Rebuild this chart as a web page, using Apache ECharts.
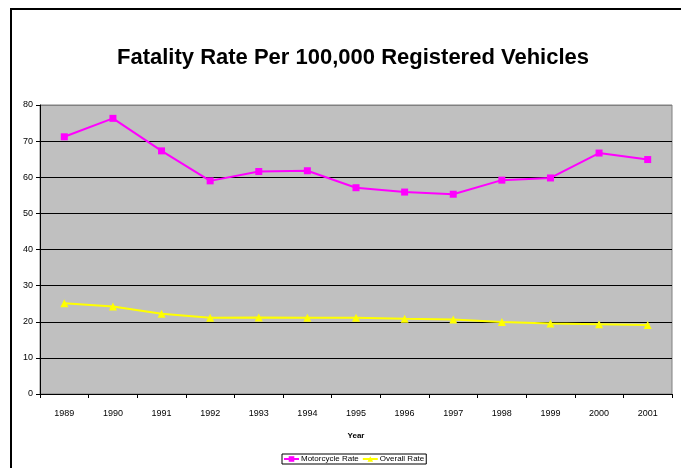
<!DOCTYPE html>
<html>
<head>
<meta charset="utf-8">
<script src="https://cdn.jsdelivr.net/npm/echarts@6/dist/echarts.min.js"></script>
<style>
  html, body { margin: 0; padding: 0; background: #fff; }
  #main { width: 681px; height: 468px; }
</style>
</head>
<body>
<div id="main"></div>
<script>
var years = ['1989', '1990', '1991', '1992', '1993', '1994', '1995', '1996', '1997', '1998', '1999', '2000', '2001'];
var motorcycleRate = [71.2, 76.3, 67.3, 59.0, 61.6, 61.8, 57.1, 55.9, 55.3, 59.2, 59.8, 66.7, 64.9];
var overallRate = [25.1, 24.2, 22.2, 21.1, 21.2, 21.1, 21.1, 20.8, 20.6, 19.9, 19.5, 19.3, 19.1];

var myChart = echarts.init(document.getElementById('main'));

var font = 'Liberation Sans, Arial, sans-serif';

var option = {
    backgroundColor: '#ffffff',
    animation: false,
    title: {
        text: 'Fatality Rate Per 100,000 Registered Vehicles',
        left: 112,
        top: 42,
        textStyle: {
            fontFamily: font,
            fontSize: 22,
            fontWeight: 'bold',
            color: '#000'
        }
    },
    graphic: [{
        type: 'rect',
        shape: { x: 11, y: 9, width: 700, height: 480 },
        style: { fill: 'none', stroke: '#000', lineWidth: 2 },
        silent: true,
        z: 100
    }],
    legend: {
        bottom: 4,
        left: 282,
        itemWidth: 15,
        itemHeight: 7,
        itemGap: 3,
        padding: [1, 2, 1, 1],
        borderColor: '#000',
        borderWidth: 1,
        textStyle: {
            fontFamily: font,
            fontSize: 8,
            color: '#000',
            padding: [0, 0, 0, -3]
        },
        data: ['Motorcycle Rate', 'Overall Rate']
    },
    grid: {
        left: 40,
        right: 9,
        top: 105,
        bottom: 74,
        show: true,
        backgroundColor: '#C0C0C0',
        borderColor: '#808080',
        borderWidth: 1
    },
    xAxis: {
        type: 'category',
        data: years,
        boundaryGap: true,
        name: 'Year',
        nameLocation: 'middle',
        nameGap: 38,
        nameTextStyle: {
            fontFamily: font,
            fontSize: 8,
            fontWeight: 'bold',
            color: '#000'
        },
        axisLine: { lineStyle: { color: '#000', width: 1 } },
        axisTick: { show: true, length: 4, lineStyle: { color: '#000' } },
        axisLabel: {
            fontFamily: font,
            fontSize: 9,
            color: '#000',
            margin: 15
        },
        splitLine: { show: false }
    },
    yAxis: {
        type: 'value',
        min: 0,
        max: 80,
        interval: 10,
        axisLine: { show: true, lineStyle: { color: '#000', width: 1 } },
        axisTick: { show: true, length: 4, lineStyle: { color: '#000' } },
        axisLabel: {
            fontFamily: font,
            fontSize: 9,
            color: '#000',
            margin: 7
        },
        splitLine: {
            show: true,
            lineStyle: {
                color: ['#000', '#000', '#000', '#000', '#000', '#000', '#000', '#000', '#808080'],
                width: 1
            }
        }
    },
    series: [{
        name: 'Motorcycle Rate',
        type: 'line',
        data: motorcycleRate,
        symbol: 'rect',
        symbolSize: 7,
        itemStyle: { color: '#FF00FF' },
        lineStyle: { color: '#FF00FF', width: 2 }
    }, {
        name: 'Overall Rate',
        type: 'line',
        data: overallRate,
        symbol: 'triangle',
        symbolSize: 8,
        itemStyle: { color: '#FFFF00' },
        lineStyle: { color: '#FFFF00', width: 2 }
    }]
};

myChart.setOption(option);
</script>
</body>
</html>
